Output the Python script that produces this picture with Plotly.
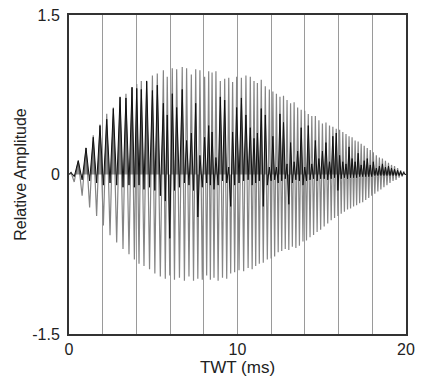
import plotly.graph_objects as go

# ---- data (times in ms, relative amplitude) ----
START_T = [0.0, 0.12]
START_A = [0.0, 0.02]
FIRST_TROUGH_T = 0.31
END_T = [19.95, 20.0]
END_A = [0.0, 0.0]

peak_t = [0.55, 1.01, 1.44, 1.84, 2.24, 2.63, 3.03, 3.38, 3.74, 4.02,
          4.29, 4.61, 4.95, 5.24, 5.60, 5.83, 6.13, 6.39, 6.72, 6.98,
          7.26, 7.52, 7.77, 8.05, 8.29, 8.49, 8.72, 8.98, 9.24, 9.48,
          9.71, 9.95, 10.23, 10.50, 10.76, 10.98, 11.18, 11.41, 11.65, 11.89,
          12.10, 12.31, 12.52, 12.73, 12.94, 13.15, 13.36, 13.57, 13.78, 13.99,
          14.20, 14.41, 14.62, 14.83, 15.04, 15.25, 15.46, 15.66, 15.86, 16.06,
          16.25, 16.44, 16.62, 16.80, 16.98, 17.16, 17.34, 17.52, 17.70, 17.88,
          18.06, 18.24, 18.42, 18.60, 18.78, 18.96, 19.14, 19.32, 19.50, 19.68,
          19.86]

gray_pos = [0.13, 0.25, 0.37, 0.47, 0.57, 0.63, 0.72, 0.76, 0.82, 0.85,
            0.88, 0.87, 0.93, 0.95, 0.98, 0.92, 1.00, 0.99, 1.01, 1.00,
            0.94, 0.99, 0.98, 0.92, 0.97, 0.96, 0.97, 0.88, 0.90, 0.91,
            0.87, 0.92, 0.91, 0.93, 0.92, 0.88, 0.86, 0.89, 0.83, 0.80,
            0.78, 0.76, 0.73, 0.74, 0.70, 0.67, 0.68, 0.63, 0.61, 0.60,
            0.57, 0.55, 0.55, 0.51, 0.48, 0.49, 0.46, 0.45, 0.43, 0.42,
            0.40, 0.38, 0.36, 0.35, 0.32, 0.31, 0.29, 0.27, 0.25, 0.23,
            0.21, 0.18, 0.16, 0.15, 0.13, 0.11, 0.09, 0.08, 0.06, 0.04,
            0.03]

gray_neg = [-0.07, -0.20, -0.31, -0.39, -0.48, -0.57, -0.64, -0.70, -0.75, -0.80,
            -0.84, -0.86, -0.89, -0.93, -0.96, -0.98, -0.95, -0.99, -0.97, -1.00,
            -0.96, -1.00, -0.98, -0.99, -0.95, -0.99, -0.97, -1.00, -0.97, -0.98,
            -0.93, -0.92, -0.90, -0.91, -0.88, -0.89, -0.86, -0.84, -0.83, -0.80,
            -0.79, -0.77, -0.73, -0.72, -0.70, -0.71, -0.68, -0.69, -0.67, -0.63,
            -0.62, -0.59, -0.57, -0.54, -0.52, -0.49, -0.46, -0.43, -0.41, -0.39,
            -0.37, -0.35, -0.33, -0.32, -0.30, -0.29, -0.27, -0.26, -0.24, -0.22,
            -0.20, -0.18, -0.16, -0.14, -0.12, -0.10, -0.08, -0.06, -0.05, -0.03,
            -0.02]

black_pos = [0.13, 0.25, 0.35, 0.46, 0.52, 0.62, 0.73, 0.72, 0.82,
             0.81, 0.80, 0.88, 0.79, 0.84, 0.67, 0.56, 0.76, 0.63, 0.80, 0.32,
             0.39, 0.67, 0.18, 0.35, 0.46, 0.40, 0.16, 0.73, 0.70, 0.07, 0.40, 0.63,
             0.72, 0.56, 0.44, 0.34, 0.39, 0.62, 0.56, 0.07,
             0.36, 0.07, 0.57, 0.49, 0.10, 0.30, 0.12, 0.22, 0.44, 0.07,
             0.46, 0.10, 0.32, 0.15, 0.22, 0.30, 0.12, 0.36, 0.39, 0.18,
             0.12, 0.10, 0.26, 0.15, 0.12, 0.20, 0.09, 0.13, 0.15, 0.09, 0.12, 0.06,
             0.08, 0.10, 0.07, 0.08, 0.06, 0.05, 0.04, 0.03, 0.02]

black_neg = [-0.02, -0.05, -0.06, -0.08, -0.10, -0.08, -0.10, -0.12, -0.10,
             -0.12, -0.10, -0.14, -0.12, -0.15, -0.20, -0.25, -0.60, -0.15, -0.12, -0.08,
             -0.10, -0.15, -0.40, -0.12, -0.08, -0.10, -0.14, -0.10, -0.06, -0.08, -0.30, -0.10,
             -0.08, -0.06, -0.05, -0.10, -0.08, -0.06, -0.30, -0.10,
             -0.06, -0.05, -0.08, -0.06, -0.04, -0.28, -0.08, -0.05, -0.06, -0.10,
             -0.06, -0.05, -0.04, -0.06, -0.04, -0.04, -0.05, -0.04, -0.03, -0.15,
             -0.04, -0.03, -0.04, -0.03, -0.03, -0.03, -0.02, -0.02, -0.02, -0.02, -0.02, -0.01,
             -0.01, -0.01, -0.01, -0.01, -0.01, -0.01, -0.01, -0.01, -0.01]

x_tick_vals = [0, 10, 20]
x_tick_text = ["0", "10", "20"]
y_tick_vals = [-1.5, 0, 1.5]
y_tick_text = ["-1.5", "0", "1.5"]
X_TITLE = "TWT (ms)"
Y_TITLE = "Relative Amplitude"

# trough times: first read directly, the rest sit between successive peaks
trough_t = [FIRST_TROUGH_T] + [(a + b) / 2 for a, b in zip(peak_t[:-1], peak_t[1:])]


def build(neg, pos):
    xs = list(START_T)
    ys = list(START_A)
    for tt, tp, n, p in zip(trough_t, peak_t, neg, pos):
        xs += [tt, tp]
        ys += [n, p]
    xs += END_T
    ys += END_A
    return xs, ys


gx, gy = build(gray_neg, gray_pos)
bx, by = build(black_neg, black_pos)

fig = go.Figure()
fig.add_trace(go.Scatter(x=gx, y=gy, mode="lines",
                         line=dict(color="#858585", width=1.2), hoverinfo="skip"))
fig.add_trace(go.Scatter(x=bx, y=by, mode="lines", fill="tozeroy",
                         fillcolor="rgba(20,20,20,0.45)",
                         line=dict(color="#111111", width=1), hoverinfo="skip"))

font_family = "Liberation Sans, Arial, sans-serif"

fig.update_layout(
    width=421, height=383,
    margin=dict(l=69, r=15, t=15, b=49),
    paper_bgcolor="white", plot_bgcolor="white",
    showlegend=False,
    font=dict(family=font_family, color="#222222", size=15),
    xaxis=dict(
        range=[0, 20], tickvals=x_tick_vals, ticktext=x_tick_text,
        showgrid=True, gridcolor="#9a9a9a", gridwidth=1,
        minor=dict(dtick=2, showgrid=True, gridcolor="#9a9a9a", gridwidth=1, ticks=""),
        zeroline=False, showline=True, linecolor="#333333", linewidth=2, mirror=True,
        ticks="", tickfont=dict(size=16), ticklabelstandoff=0, automargin=False,
        title=dict(text=X_TITLE, font=dict(size=17), standoff=2),
    ),
    yaxis=dict(
        range=[-1.5, 1.5], tickvals=y_tick_vals, ticktext=y_tick_text,
        showgrid=False, zeroline=False, showline=True, linecolor="#333333",
        linewidth=2, mirror=True, ticks="", tickfont=dict(size=16),
        ticklabelstandoff=4, automargin=False,
        title=dict(text=Y_TITLE, font=dict(size=16), standoff=2),
    ),
)

fig.write_html("out.html", config={"displayModeBar": False},
               post_script="document.body.style.margin='0';")
